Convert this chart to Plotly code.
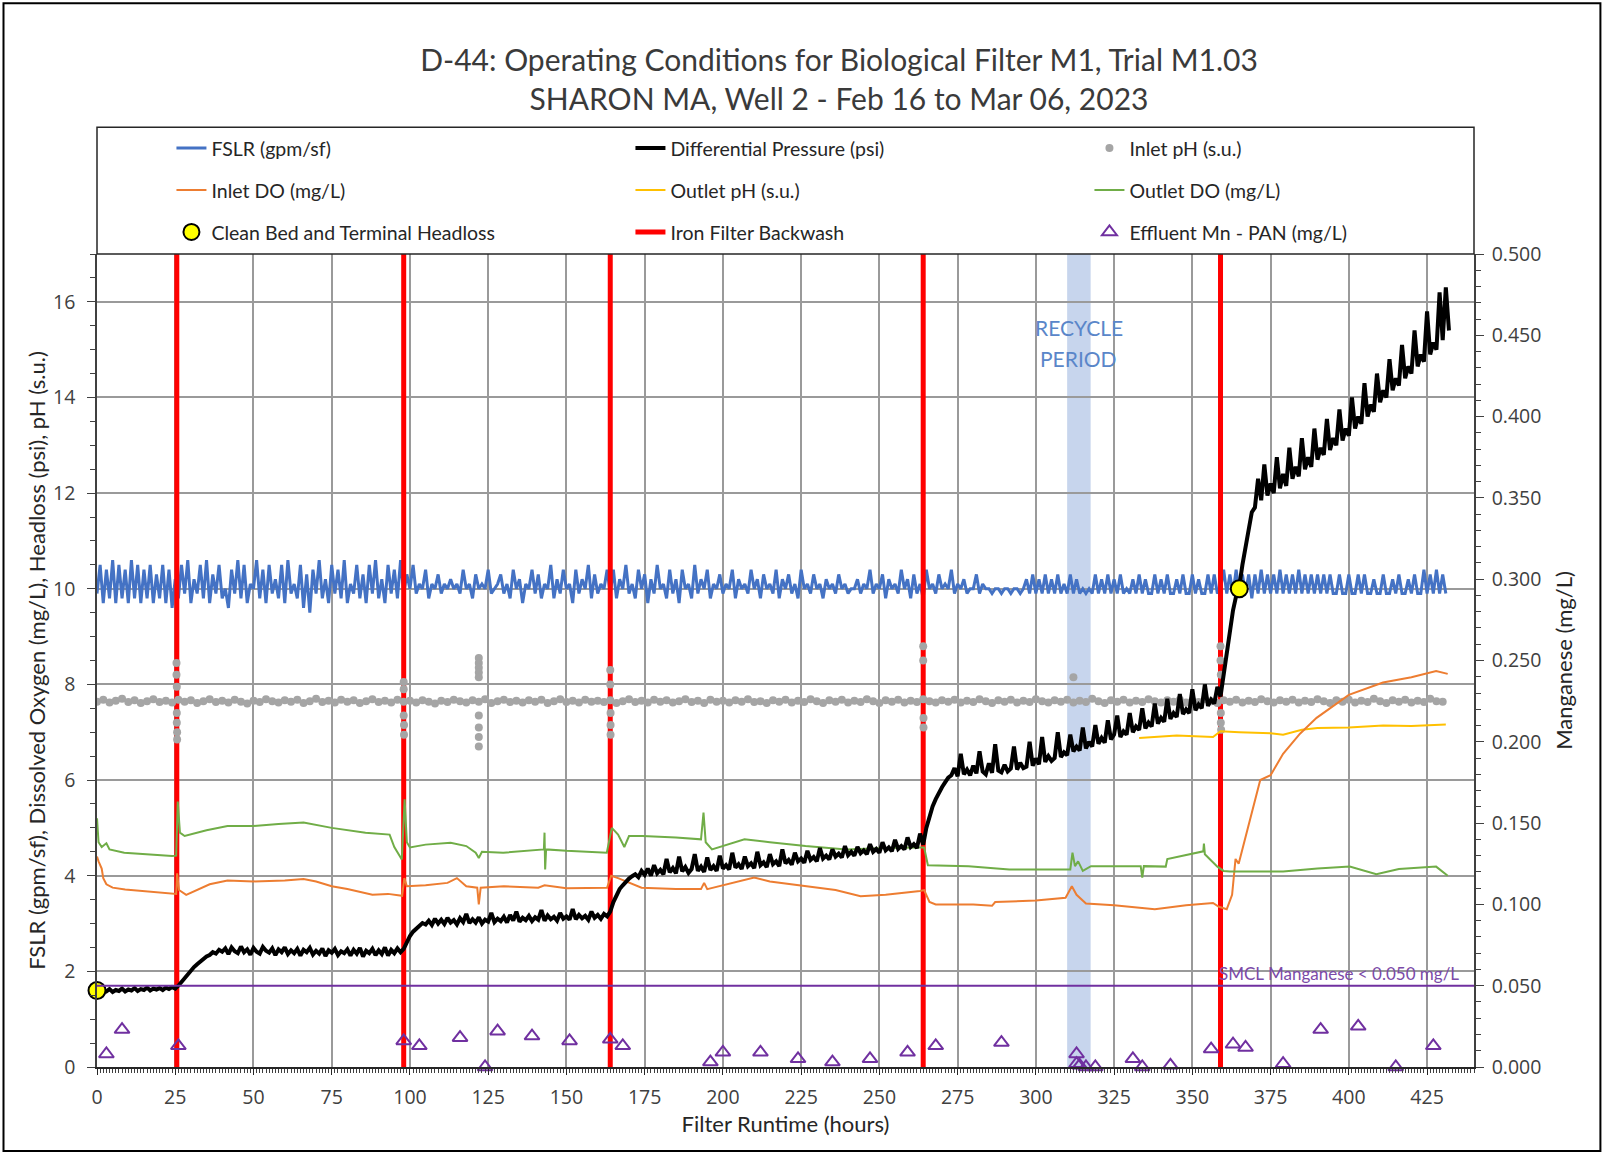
import numpy as np
import plotly.graph_objects as go

# ---------------- data ----------------
# Filter surface loading rate, hourly readings from hour 0
FSLR = [
    9.9, 10.5, 9.7, 10.4, 9.8, 10.6, 9.7, 10.5, 9.8, 10.4,
    9.7, 10.6, 9.8, 10.5, 9.7, 10.4, 9.8, 10.5, 9.7, 10.3,
    9.8, 10.5, 9.7, 10.4, 9.6, 10.2, 9.8, 10.5, 9.9, 10.6,
    9.7, 10.2, 9.9, 10.5, 9.8, 10.6, 9.7, 10.3, 9.9, 10.5,
    9.8, 10.0, 9.6, 10.4, 9.9, 10.6, 9.8, 10.5, 9.7, 10.1,
    10.0, 10.6, 9.8, 10.4, 9.7, 10.5, 9.9, 10.2, 9.8, 10.5,
    9.7, 10.6, 9.9, 10.1, 9.8, 10.5, 9.6, 10.3, 9.5, 10.4,
    9.9, 10.6, 9.8, 10.2, 9.7, 10.5, 9.9, 10.4, 9.8, 10.6,
    9.7, 10.1, 9.9, 10.5, 9.8, 10.3, 9.7, 10.5, 9.9, 10.6,
    9.8, 10.2, 9.7, 10.5, 9.9, 10.4, 9.8, 10.6, 9.9, 10.3,
    10.0, 10.5, 9.9, 10.1, 10.0, 10.4, 9.8, 10.1, 10.0, 10.3,
    9.9, 10.1, 10.0, 10.2, 10.0, 10.1, 9.9, 10.4, 10.0, 10.1,
    9.8, 10.3, 10.0, 10.1, 10.0, 10.4, 9.9, 10.0, 10.1, 10.3,
    9.9, 10.1, 9.8, 10.4, 10.0, 10.2, 9.7, 10.1, 10.0, 10.4,
    9.9, 10.3, 9.8, 10.1, 10.0, 10.5, 9.8, 10.2, 9.9, 10.4,
    10.0, 10.1, 9.7, 10.4, 9.9, 10.2, 10.0, 10.5, 9.8, 10.3,
    9.9, 10.1, 10.0, 10.4, 9.9, 10.4, 9.8, 10.2, 10.0, 10.5,
    9.9, 10.1, 9.8, 10.4, 10.0, 10.3, 9.7, 10.2, 9.9, 10.5,
    10.0, 10.1, 9.8, 10.4, 9.9, 10.2, 9.7, 10.4, 10.0, 10.1,
    9.8, 10.5, 9.9, 10.2, 10.0, 10.4, 9.8, 10.1, 10.0, 10.3,
    9.9, 10.1, 10.0, 10.4, 9.8, 10.2, 10.0, 10.1, 9.9, 10.4,
    10.0, 10.2, 9.8, 10.3, 10.0, 10.1, 9.9, 10.4, 9.8, 10.2,
    10.0, 10.3, 9.9, 10.1, 9.8, 10.4, 10.0, 10.1, 9.9, 10.3,
    10.0, 10.1, 9.8, 10.2, 10.0, 10.1, 9.9, 10.3, 10.0, 10.1,
    9.9, 10.0, 10.0, 10.2, 9.9, 10.1, 10.0, 10.4, 9.9, 10.1,
    10.0, 10.3, 9.8, 10.2, 10.0, 10.1, 9.9, 10.4, 10.0, 10.2,
    9.8, 10.3, 9.9, 10.1, 9.8, 10.4, 10.0, 10.1, 9.9, 10.3,
    10.0, 10.1, 10.0, 10.4, 9.9, 10.1, 10.0, 10.2, 9.9, 10.0,
    10.0, 10.3, 9.9, 10.1, 10.0, 10.0, 9.9, 10.0, 10.0, 9.9,
    10.0, 10.0, 9.9, 10.0, 10.0, 9.9, 10.0, 10.2, 9.9, 10.3,
    9.9, 10.2, 9.9, 10.3, 9.9, 10.2, 9.9, 10.3, 9.9, 10.1,
    9.9, 10.3, 9.9, 10.2, 9.9, 10.0, 9.9, 10.0, 9.9, 10.3,
    9.9, 10.2, 9.9, 10.3, 9.9, 10.2, 9.9, 10.3, 9.9, 10.0,
    9.9, 10.2, 9.9, 10.3, 9.9, 10.2, 9.9, 9.9, 10.3, 9.9,
    10.2, 9.9, 10.3, 9.9, 9.9, 10.2, 9.9, 10.3, 9.9, 9.9,
    10.3, 9.9, 10.2, 9.9, 9.9, 10.3, 9.9, 10.3, 9.9, 10.0,
    10.4, 9.9, 10.3, 9.9, 10.4, 9.9, 10.3, 9.9, 10.3, 9.8,
    10.3, 9.9, 10.4, 9.9, 10.3, 9.9, 10.3, 9.9, 10.4, 9.9,
    10.3, 9.9, 10.3, 9.9, 10.4, 9.9, 10.3, 9.9, 10.3, 9.9,
    10.3, 9.9, 10.3, 9.9, 10.3, 9.9, 9.9, 10.3, 9.9, 9.9,
    10.3, 9.9, 9.9, 10.3, 9.9, 10.3, 9.9, 9.9, 10.2, 9.9,
    9.9, 10.3, 9.9, 9.9, 10.2, 9.9, 10.3, 9.9, 9.9, 10.2,
    9.9, 10.3, 9.9, 9.9, 10.4, 9.9, 10.3, 9.9, 10.4, 9.9,
    10.3, 9.9,
]

# Differential pressure (psi), hourly readings from hour 0
DIFF_PRESSURE = [
    1.60, 1.56, 1.62, 1.58, 1.63, 1.57, 1.61, 1.59, 1.64, 1.58,
    1.62, 1.60, 1.65, 1.59, 1.63, 1.61, 1.66, 1.60, 1.64, 1.62,
    1.65, 1.61, 1.66, 1.63, 1.67, 1.64, 1.70, 1.78, 1.86, 1.95,
    2.02, 2.09, 2.15, 2.21, 2.25, 2.31, 2.34, 2.40, 2.37, 2.45,
    2.41, 2.48, 2.36, 2.50, 2.42, 2.38, 2.52, 2.40, 2.46, 2.35,
    2.49, 2.41, 2.37, 2.51, 2.43, 2.39, 2.48, 2.34, 2.46, 2.40,
    2.50, 2.36, 2.44, 2.38, 2.47, 2.33, 2.45, 2.40, 2.49, 2.35,
    2.43, 2.37, 2.48, 2.32, 2.44, 2.39, 2.47, 2.34, 2.42, 2.38,
    2.46, 2.33, 2.45, 2.37, 2.49, 2.31, 2.43, 2.38, 2.47, 2.34,
    2.44, 2.36, 2.50, 2.33, 2.45, 2.38, 2.48, 2.40, 2.47, 2.62,
    2.74, 2.83, 2.90, 2.96, 3.01, 2.98, 3.06, 2.97, 3.10, 3.00,
    3.08, 2.99, 3.12, 3.02, 3.07, 2.98, 3.11, 3.03, 3.20, 3.01,
    3.09, 3.02, 3.13, 3.00, 3.08, 3.04, 3.22, 3.03, 3.10, 3.05,
    3.14, 3.02, 3.18, 3.06, 3.25, 3.04, 3.12, 3.07, 3.16, 3.05,
    3.13, 3.08, 3.28, 3.06, 3.17, 3.09, 3.14, 3.06, 3.22, 3.10,
    3.15, 3.08, 3.30, 3.09, 3.18, 3.11, 3.16, 3.08, 3.25, 3.12,
    3.18, 3.10, 3.20, 3.15, 3.25, 3.45, 3.60, 3.72, 3.80, 3.88,
    3.94, 3.99, 4.03, 3.97, 4.10, 4.02, 4.15, 4.00, 4.22, 4.05,
    4.12, 4.03, 4.35, 4.07, 4.16, 4.05, 4.40, 4.09, 4.18, 4.06,
    4.14, 4.45, 4.10, 4.19, 4.08, 4.38, 4.12, 4.20, 4.10, 4.42,
    4.15, 4.22, 4.13, 4.48, 4.17, 4.24, 4.14, 4.40, 4.20, 4.26,
    4.16, 4.50, 4.22, 4.28, 4.18, 4.45, 4.24, 4.30, 4.20, 4.55,
    4.26, 4.33, 4.23, 4.48, 4.30, 4.36, 4.27, 4.52, 4.33, 4.39,
    4.30, 4.58, 4.36, 4.42, 4.34, 4.55, 4.40, 4.46, 4.38, 4.62,
    4.43, 4.50, 4.42, 4.60, 4.47, 4.53, 4.45, 4.66, 4.50, 4.56,
    4.48, 4.70, 4.53, 4.59, 4.51, 4.75, 4.56, 4.62, 4.55, 4.80,
    4.60, 4.66, 4.58, 4.88, 4.65, 5.00, 5.25, 5.45, 5.60, 5.75,
    5.85, 5.95, 6.05, 6.10, 6.25, 6.08, 6.55, 6.12, 6.22, 6.10,
    6.30, 6.14, 6.60, 6.18, 6.12, 6.35, 6.15, 6.75, 6.20, 6.16,
    6.32, 6.18, 6.24, 6.70, 6.22, 6.36, 6.25, 6.28, 6.80, 6.30,
    6.45, 6.33, 6.90, 6.38, 6.50, 6.40, 6.46, 7.00, 6.48, 6.58,
    6.52, 6.95, 6.60, 6.70, 6.62, 7.10, 6.66, 6.80, 6.70, 7.15,
    6.76, 6.88, 6.78, 7.25, 6.85, 6.95, 7.35, 6.90, 7.02, 6.95,
    7.40, 7.00, 7.12, 7.05, 7.50, 7.08, 7.20, 7.12, 7.60, 7.18,
    7.30, 7.22, 7.70, 7.28, 7.40, 7.32, 7.80, 7.38, 7.48, 7.40,
    7.90, 7.46, 7.58, 7.50, 8.00, 7.55, 7.68, 7.60, 7.95, 7.75,
    8.20, 8.70, 9.20, 9.55, 9.85, 10.05, 10.50, 10.90, 11.30, 11.60,
    11.70, 12.30, 11.85, 12.60, 11.95, 12.20, 12.00, 12.75, 12.10, 12.40,
    12.15, 12.95, 12.30, 12.55, 12.35, 13.15, 12.50, 12.75, 12.55, 13.35,
    12.70, 12.95, 12.80, 13.55, 12.90, 13.15, 13.00, 13.75, 13.10, 13.35,
    13.20, 14.00, 13.35, 13.60, 13.45, 14.30, 13.60, 13.85, 13.70, 14.50,
    13.90, 14.15, 14.00, 14.80, 14.15, 14.40, 14.25, 15.10, 14.40, 14.65,
    14.50, 15.40, 14.65, 14.90, 14.75, 15.80, 14.90, 15.15, 15.00, 16.20,
    15.20, 16.30, 15.40,
]

# Inlet pH, readings every 2 hours from hour 0
INLET_PH = [
    7.64, 7.68, 7.62, 7.66, 7.70, 7.63, 7.67, 7.61, 7.65, 7.69,
    7.63, 7.66, 7.62, 7.68, 7.64, 7.67, 7.61, 7.65, 7.69, 7.63,
    7.66, 7.62, 7.68, 7.64, 7.60, 7.66, 7.63, 7.69, 7.65, 7.62,
    7.67, 7.64, 7.68, 7.61, 7.65, 7.70, 7.63, 7.66, 7.62, 7.68,
    7.64, 7.67, 7.61, 7.65, 7.69, 7.63, 7.66, 7.62, 7.68, 7.64,
    7.66, 7.62, 7.67, 7.64, 7.60, 7.66, 7.63, 7.68, 7.65, 7.62,
    7.67, 7.64, 7.69, 7.61, 7.65, 7.68, 7.63, 7.66, 7.62, 7.67,
    7.64, 7.68, 7.61, 7.65, 7.69, 7.63, 7.66, 7.62, 7.68, 7.64,
    7.66, 7.63, 7.67, 7.61, 7.65, 7.69, 7.63, 7.66, 7.62, 7.68,
    7.64, 7.67, 7.62, 7.65, 7.69, 7.63, 7.66, 7.61, 7.68, 7.64,
    7.66, 7.62, 7.67, 7.64, 7.69, 7.63, 7.65, 7.61, 7.67, 7.64,
    7.68, 7.62, 7.66, 7.63, 7.69, 7.65, 7.61, 7.67, 7.64, 7.68,
    7.62, 7.66, 7.63, 7.69, 7.65, 7.61, 7.67, 7.64, 7.68, 7.62,
    7.66, 7.63, 7.69, 7.65, 7.62, 7.67, 7.64, 7.68, 7.62, 7.66,
    7.63, 7.69, 7.65, 7.61, 7.67, 7.64, 7.68, 7.62, 7.66, 7.63,
    7.69, 7.65, 7.62, 7.67, 7.64, 7.68, 7.62, 7.66, 7.63, 7.70,
    7.65, 7.61, 7.67, 7.64, 7.68, 7.62, 7.66, 7.63, 7.69, 7.65,
    7.62, 7.67, 7.64, 7.68, 7.62, 7.66, 7.63, 7.69, 7.65, 7.61,
    7.67, 7.64, 7.68, 7.62, 7.66, 7.63, 7.69, 7.65, 7.62, 7.67,
    7.64, 7.68, 7.62, 7.66, 7.63, 7.69, 7.65, 7.61, 7.67, 7.64,
    7.68, 7.62, 7.66, 7.63, 7.70, 7.65, 7.61, 7.67, 7.64, 7.68,
    7.62, 7.66, 7.63, 7.70, 7.65, 7.64,
]
# Scattered inlet pH readings logged during backwash events
PH_EVENT_HOURS = [25.4, 25.4, 25.5, 25.5, 25.5, 25.6, 25.6,
                  98.0, 98.0, 98.0, 98.1, 98.1,
                  122.0, 122.0, 122.0, 122.0, 122.0, 122.0, 122.0, 122.0, 122.0,
                  164.0, 164.0, 164.1, 164.1, 164.1,
                  264.0, 264.0, 264.1, 264.1,
                  312.0,
                  359.0, 359.0, 359.1, 359.1, 359.1, 359.2]
PH_EVENT_VALUES = [8.45, 8.20, 7.95, 7.40, 7.20, 7.00, 6.85,
                   8.05, 7.90, 7.35, 7.15, 6.95,
                   8.55, 8.45, 8.35, 8.25, 8.15, 7.35, 7.10, 6.90, 6.70,
                   8.30, 8.00, 7.40, 7.15, 6.95,
                   8.80, 8.50, 7.30, 7.10,
                   8.15,
                   8.80, 8.50, 8.20, 7.40, 7.20, 7.05]

# Inlet dissolved oxygen (mg/L)
INLET_DO_HOURS = [0, 0.5, 1.5, 2, 3, 5, 9, 15, 24, 25.3, 25.6, 26.2, 28.5, 32, 36, 41.7,
                  50, 60, 66, 70, 75, 80, 88, 93, 97.5, 98.2, 99, 105, 112, 115, 118,
                  121.5, 122, 122.6, 130, 141, 143, 150, 163, 164.3, 166.5, 174, 185,
                  193, 194, 195, 200, 210, 215, 226, 236, 244, 252, 263, 264.3, 266,
                  268, 280, 286, 287, 300, 309.5, 311.5, 313, 316, 325, 338, 348,
                  356.6, 358.5, 361, 362.7, 363.8, 364.8, 367.5, 371.7, 375, 379,
                  384.4, 389.7, 400, 410.9, 420, 427.9, 431.6]
INLET_DO = [4.40, 4.30, 4.15, 3.95, 3.82, 3.75, 3.71, 3.68, 3.64, 3.62, 4.05, 3.70, 3.60,
            3.70, 3.82, 3.90, 3.88, 3.90, 3.93, 3.88, 3.78, 3.72, 3.60, 3.62, 3.58, 3.95,
            3.78, 3.80, 3.85, 3.95, 3.78, 3.75, 3.40, 3.75, 3.78, 3.75, 3.80, 3.74, 3.75,
            4.00, 3.95, 3.75, 3.72, 3.72, 3.85, 3.72, 3.80, 3.96, 3.88, 3.78, 3.70, 3.57,
            3.60, 3.68, 3.70, 3.45, 3.40, 3.40, 3.37, 3.45, 3.48, 3.54, 3.78, 3.60, 3.42,
            3.38, 3.30, 3.38, 3.43, 3.35, 3.30, 3.60, 4.35, 4.25, 4.94, 6.00, 6.10, 6.55,
            6.97, 7.30, 7.78, 8.04, 8.15, 8.28, 8.22]

# Outlet dissolved oxygen (mg/L)
OUTLET_DO_HOURS = [0, 0.5, 1.5, 3, 4, 8.7, 24, 25.3, 25.8, 26.5, 28, 35, 41.7, 50, 58,
                   66, 75, 85.8, 93.5, 95, 97.4, 98.3, 99, 100, 105, 113, 118, 121,
                   122, 123, 129.8, 142.8, 143, 143.2, 143.5, 150, 162.9, 164.5, 166.5,
                   168.5, 170, 174.3, 185, 193, 193.8, 194.5, 196.5, 206.9, 215, 226.4,
                   239.4, 252, 263, 264.3, 265.5, 278.5, 291.5, 304.6, 311, 311.7, 312.5,
                   313.5, 315, 317.6, 333.5, 334, 334.5, 341.5, 342, 353.5, 353.7, 354,
                   358, 360, 362, 379, 390, 400.3, 404, 408.8, 416, 427.9, 431.6]
OUTLET_DO = [5.20, 4.70, 4.60, 4.68, 4.55, 4.48, 4.41, 4.42, 5.55, 4.90, 4.83, 4.95, 5.04,
             5.04, 5.08, 5.11, 5.00, 4.90, 4.86, 4.60, 4.34, 5.60, 4.70, 4.59, 4.65, 4.69,
             4.62, 4.48, 4.37, 4.50, 4.48, 4.55, 4.90, 4.13, 4.55, 4.52, 4.48, 5.00, 4.86,
             4.60, 4.83, 4.83, 4.80, 4.76, 5.32, 4.70, 4.55, 4.76, 4.70, 4.62, 4.55, 4.58,
             4.59, 4.59, 4.22, 4.20, 4.13, 4.13, 4.13, 4.48, 4.20, 4.30, 4.10, 4.20, 4.20,
             3.96, 4.20, 4.19, 4.35, 4.51, 4.67, 4.45, 4.19, 4.10, 4.09, 4.09, 4.15, 4.19,
             4.12, 4.03, 4.14, 4.19, 4.00]

# Outlet pH (s.u.)
OUTLET_PH_HOURS = [333, 345, 356.6, 359, 365, 375, 379, 385, 390, 400, 411, 420, 431]
OUTLET_PH = [6.88, 6.93, 6.90, 7.02, 7.00, 6.98, 6.95, 7.05, 7.09, 7.10, 7.14, 7.13, 7.16]

# Clean bed and terminal headloss points (psi)
HEADLOSS_HOURS = [0, 365]
HEADLOSS_PSI = [1.6, 10.0]

# Iron filter backwash events (hours)
BACKWASH_HOURS = [25.5, 98, 164, 264, 359]

# Effluent manganese by PAN method (mg/L)
MN_HOURS = [3, 8, 26, 98, 103, 116, 124, 128, 139, 151, 164, 168, 196, 200, 212, 224,
            235, 247, 259, 268, 289, 313, 313, 314, 316, 319, 331, 334, 343, 356, 363,
            367, 379, 391, 403, 415, 427]
MN_PAN = [0.008, 0.023, 0.013, 0.016, 0.013, 0.018, 0.000, 0.022, 0.019, 0.016, 0.017,
          0.013, 0.003, 0.009, 0.009, 0.005, 0.003, 0.005, 0.009, 0.013, 0.015, 0.008,
          0.002, 0.001, 0.000, 0.000, 0.005, 0.000, 0.001, 0.011, 0.014, 0.012, 0.002,
          0.023, 0.025, 0.000, 0.013]

SMCL_MN = 0.050
RECYCLE_START, RECYCLE_END = 310, 317.5

X_MAX, Y_MAX, Y2_MAX = 440, 17, 0.5

# ---------------- styling ----------------
TEXT_FONT = "Lato"
TICK_FONT = "Open Sans"
GRID = "#9a9a9a"
PURPLE = "#7030a0"
TICK_SIZE = 19.5
AXIS_TITLE_SIZE = 22

fig = go.Figure()

fig.add_trace(go.Scatter(
    x=np.arange(len(FSLR)), y=FSLR, mode="lines", name="FSLR (gpm/sf)",
    line=dict(color="#4472c4", width=3), legend="legend", legendrank=1))

bw_x, bw_y = [], []
for h in BACKWASH_HOURS:
    bw_x += [h, h, None]
    bw_y += [0, Y_MAX, None]
fig.add_trace(go.Scatter(
    x=bw_x, y=bw_y, mode="lines", name="Iron Filter Backwash",
    line=dict(color="#ff0000", width=5), legend="legend3", legendrank=8))

fig.add_trace(go.Scatter(
    x=list(np.arange(0, 2 * len(INLET_PH), 2)) + PH_EVENT_HOURS,
    y=INLET_PH + PH_EVENT_VALUES, mode="markers", name="Inlet pH (s.u.)",
    marker=dict(color="#a5a5a5", size=8), legend="legend", legendrank=3))

fig.add_trace(go.Scatter(
    x=OUTLET_PH_HOURS, y=OUTLET_PH, mode="lines", name="Outlet pH (s.u.)",
    line=dict(color="#ffc000", width=2), legend="legend2", legendrank=5))

fig.add_trace(go.Scatter(
    x=INLET_DO_HOURS, y=INLET_DO, mode="lines", name="Inlet DO (mg/L)",
    line=dict(color="#ed7d31", width=2), legend="legend2", legendrank=4))

fig.add_trace(go.Scatter(
    x=OUTLET_DO_HOURS, y=OUTLET_DO, mode="lines", name="Outlet DO (mg/L)",
    line=dict(color="#70ad47", width=2), legend="legend2", legendrank=6))

fig.add_trace(go.Scatter(
    x=np.arange(len(DIFF_PRESSURE)), y=DIFF_PRESSURE, mode="lines",
    name="Differential Pressure (psi)",
    line=dict(color="#000000", width=4), legend="legend", legendrank=2))

fig.add_trace(go.Scatter(
    x=MN_HOURS, y=MN_PAN, mode="markers", name="Effluent Mn - PAN (mg/L)", yaxis="y2",
    marker=dict(symbol="triangle-up-open", size=13, color=PURPLE, line=dict(width=2)),
    cliponaxis=False, legend="legend3", legendrank=9))

fig.add_trace(go.Scatter(
    x=HEADLOSS_HOURS, y=HEADLOSS_PSI, mode="markers",
    name="Clean Bed and Terminal Headloss",
    marker=dict(color="#ffff00", size=17, line=dict(color="#000000", width=2)),
    cliponaxis=False, legend="legend3", legendrank=7))

# Recycle period band and the SMCL limit
fig.add_shape(type="rect", xref="x", yref="y", x0=RECYCLE_START, x1=RECYCLE_END,
              y0=0, y1=Y_MAX, fillcolor="#b4c7e7", opacity=0.75, line_width=0,
              layer="below")
fig.add_shape(type="line", xref="x", yref="y2", x0=0, x1=X_MAX, y0=SMCL_MN, y1=SMCL_MN,
              line=dict(color=PURPLE, width=2))

recycle_mid = (RECYCLE_START + RECYCLE_END) / 2
for label, y in (("RECYCLE", 15.47), ("PERIOD", 14.82)):
    fig.add_annotation(x=recycle_mid, y=y, xref="x", yref="y", text=label,
                       showarrow=False,
                       font=dict(family=TEXT_FONT, size=21, color="#5a86c9"))
fig.add_annotation(x=436, y=SMCL_MN, xref="x", yref="y2", xanchor="right",
                   yanchor="bottom", text="SMCL Manganese < 0.050 mg/L", showarrow=False,
                   font=dict(family=TEXT_FONT, size=17, color="#7b4aa8"))

# Legend frame above the plot area and the outer chart border
fig.add_shape(type="rect", xref="paper", yref="paper", x0=0, x1=1, y0=1, y1=1.1558,
              line=dict(color="#262626", width=1.5), fillcolor="rgba(0,0,0,0)")
fig.add_shape(type="rect", xref="paper", yref="paper", x0=-0.0679, x1=1.0918,
              y0=-0.1033, y1=1.3083, line=dict(color="#000000", width=2))

legend_common = dict(orientation="h", xref="paper", x=(171 - 96.5) / 1378,
                     xanchor="left", yanchor="middle", entrywidth=414,
                     entrywidthmode="pixels", bgcolor="rgba(0,0,0,0)", borderwidth=0,
                     font=dict(family=TEXT_FONT, size=19.5, color="#262626"))

fig.update_layout(
    width=1604, height=1154, autosize=False,
    margin=dict(l=96.5, r=129.5, t=253.7, b=87),
    paper_bgcolor="white", plot_bgcolor="white",
    title=dict(text="D-44: Operating Conditions for Biological Filter M1, Trial M1.03<br>"
                    "SHARON MA, Well 2 - Feb 16 to Mar 06, 2023",
               x=839 / 1604, xanchor="center", xref="container",
               y=1 - 71 / 1154, yanchor="middle", yref="container",
               font=dict(family=TEXT_FONT, size=30, color="#3a3a3a")),
    legend=dict(legend_common, y=(1067 - 148) / 813.3),
    legend2=dict(legend_common, y=(1067 - 190) / 813.3),
    legend3=dict(legend_common, y=(1067 - 232) / 813.3),
    xaxis=dict(range=[0, X_MAX], tick0=0, dtick=25, showgrid=True, gridcolor=GRID,
               gridwidth=1.5, showline=True, linecolor="#262626", linewidth=2,
               ticks="outside", ticklen=6, tickcolor="#262626", ticklabelstandoff=6,
               minor=dict(dtick=1, ticks="outside", ticklen=4, tickcolor="#404040"),
               tickfont=dict(family=TICK_FONT, size=TICK_SIZE, color="#404040"),
               title=dict(text="Filter Runtime (hours)", standoff=4,
                          font=dict(family=TEXT_FONT, size=AXIS_TITLE_SIZE,
                                    color="#262626")),
               zeroline=False),
    yaxis=dict(range=[0, Y_MAX], tick0=0, dtick=2, showgrid=True, gridcolor=GRID,
               gridwidth=1.5, showline=True, linecolor="#404040", linewidth=1.5,
               ticks="outside", ticklen=8, tickcolor="#404040", ticklabelstandoff=8,
               minor=dict(dtick=0.5, ticks="outside", ticklen=5, tickcolor="#404040"),
               tickfont=dict(family=TICK_FONT, size=TICK_SIZE, color="#404040"),
               title=dict(text="FSLR (gpm/sf), Dissolved Oxygen (mg/L), Headloss (psi), pH (s.u.)",
                          standoff=1,
                          font=dict(family=TEXT_FONT, size=AXIS_TITLE_SIZE,
                                    color="#262626")),
               zeroline=False),
    yaxis2=dict(range=[0, Y2_MAX], overlaying="y", side="right", tick0=0, dtick=0.05,
                tickformat=".3f", showgrid=False, showline=True, linecolor="#404040",
                linewidth=1.5, ticks="outside", ticklen=8, tickcolor="#404040",
                ticklabelstandoff=4,
                minor=dict(dtick=0.01, ticks="outside", ticklen=5, tickcolor="#404040"),
                tickfont=dict(family=TICK_FONT, size=TICK_SIZE, color="#404040"),
                title=dict(text="Manganese (mg/L)", standoff=16,
                           font=dict(family=TEXT_FONT, size=AXIS_TITLE_SIZE,
                                     color="#262626")),
                zeroline=False),
)

fig.write_html("out.html")
